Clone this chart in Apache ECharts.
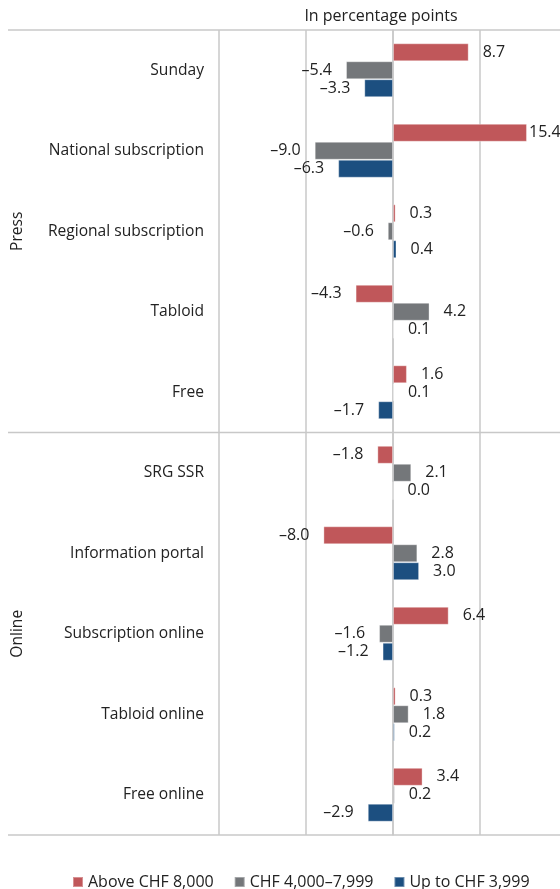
<!DOCTYPE html>
<html>
<head>
<meta charset="utf-8">
<script src="https://cdn.jsdelivr.net/npm/echarts@6/dist/echarts.min.js"></script>
<style>
  html, body { margin: 0; padding: 0; background: #fff; }
  #ch1 { width: 560px; height: 889px; }
</style>
</head>
<body>
<div id="ch1"></div>
<script>
var categories = ['Sunday', 'National subscription', 'Regional subscription', 'Tabloid', 'Free',
  'SRG SSR', 'Information portal', 'Subscription online', 'Tabloid online', 'Free online'];
var groups = ['Press', 'Online'];
var seriesNames = ['Above CHF 8,000', 'CHF 4,000\u20137,999', 'Up to CHF 3,999'];
var above8000 = [8.7, 15.4, 0.3, -4.3, 1.6, -1.8, -8.0, 6.4, 0.3, 3.4];
var mid4000 = [-5.4, -9.0, -0.6, 4.2, 0.1, 2.1, 2.8, -1.6, 1.8, 0.2];
var upto3999 = [-3.3, -6.3, 0.4, 0.1, -1.7, 0.0, 3.0, -1.2, 0.2, -2.9];
var xTicks = [-20, -10, 0, 10, 20];

window.onload = function() {
  var ch1 = echarts.init(document.getElementById('ch1'));
  var font = '"Open Sans", "Noto Sans", sans-serif';
  var gLeft = 219, gTop = 30, gHeight = 805;
  var colors = ['#c0575a', '#74777a', '#1c4f80'];

  function fmt(v) {
    return (v < 0 ? '\u2013' : '') + Math.abs(v).toFixed(1);
  }

  function makeData(arr) {
    return arr.map(function(v) {
      return {
        value: v,
        label: {
          position: v < 0 ? 'left' : 'right',
          distance: v >= 15 ? 2 : 14
        }
      };
    });
  }

  function makeSeries(name, arr, idx) {
    return {
      name: name,
      type: 'bar',
      barGap: '0%',
      barCategoryGap: '33%',
      itemStyle: {
        color: colors[idx],
        borderColor: 'rgba(255,255,255,0.35)',
        borderWidth: 1
      },
      label: {
        show: true,
        color: '#222',
        fontSize: 16,
        fontFamily: font,
        formatter: function(p) { return fmt(p.value); }
      },
      data: makeData(arr)
    };
  }

  var half = gTop + gHeight / 2;
  var op1 = {
    animation: false,
    color: colors,
    grid: {
      left: gLeft,
      top: gTop,
      width: 348,
      height: gHeight,
      containLabel: false,
      outerBoundsMode: 'none'
    },
    legend: {
      left: 67,
      top: 869,
      icon: 'rect',
      itemWidth: 10,
      itemHeight: 10,
      itemGap: 20,
      textStyle: { fontSize: 16, color: '#222', fontFamily: font },
      data: seriesNames
    },
    xAxis: {
      type: 'value',
      min: xTicks[0],
      max: xTicks[xTicks.length - 1],
      interval: 10,
      axisLabel: { show: false },
      axisTick: { show: false },
      axisLine: { show: false },
      splitLine: { show: true, lineStyle: { color: '#c8c8c8', width: 1.5 } }
    },
    yAxis: {
      type: 'category',
      inverse: true,
      data: categories,
      axisTick: { show: false },
      axisLine: { show: true, lineStyle: { color: '#c8c8c8', width: 1.5 } },
      axisLabel: { color: '#222', fontSize: 15.6, fontFamily: font, margin: 15 }
    },
    graphic: [
      { type: 'text', x: 381, y: 16,
        style: { text: 'In percentage points', fill: '#222', font: '16px ' + font, textAlign: 'center', textVerticalAlign: 'middle' } },
      { type: 'line', shape: { x1: 8, y1: gTop, x2: 560, y2: gTop }, style: { stroke: '#c8c8c8', lineWidth: 1.5 } },
      { type: 'line', shape: { x1: 8, y1: half, x2: 560, y2: half }, style: { stroke: '#c8c8c8', lineWidth: 1.5 } },
      { type: 'line', shape: { x1: 8, y1: gTop + gHeight, x2: 560, y2: gTop + gHeight }, style: { stroke: '#c8c8c8', lineWidth: 1.5 } },
      { type: 'text', x: 18, y: (gTop + half) / 2, rotation: Math.PI / 2,
        style: { text: groups[0], fill: '#222', font: '15.6px ' + font, textAlign: 'center', textVerticalAlign: 'middle' } },
      { type: 'text', x: 18, y: (half + gTop + gHeight) / 2, rotation: Math.PI / 2,
        style: { text: groups[1], fill: '#222', font: '15.6px ' + font, textAlign: 'center', textVerticalAlign: 'middle' } }
    ],
    series: [
      makeSeries(seriesNames[0], above8000, 0),
      makeSeries(seriesNames[1], mid4000, 1),
      makeSeries(seriesNames[2], upto3999, 2)
    ]
  };

  ch1.setOption(op1);
};
</script>
</body>
</html>
